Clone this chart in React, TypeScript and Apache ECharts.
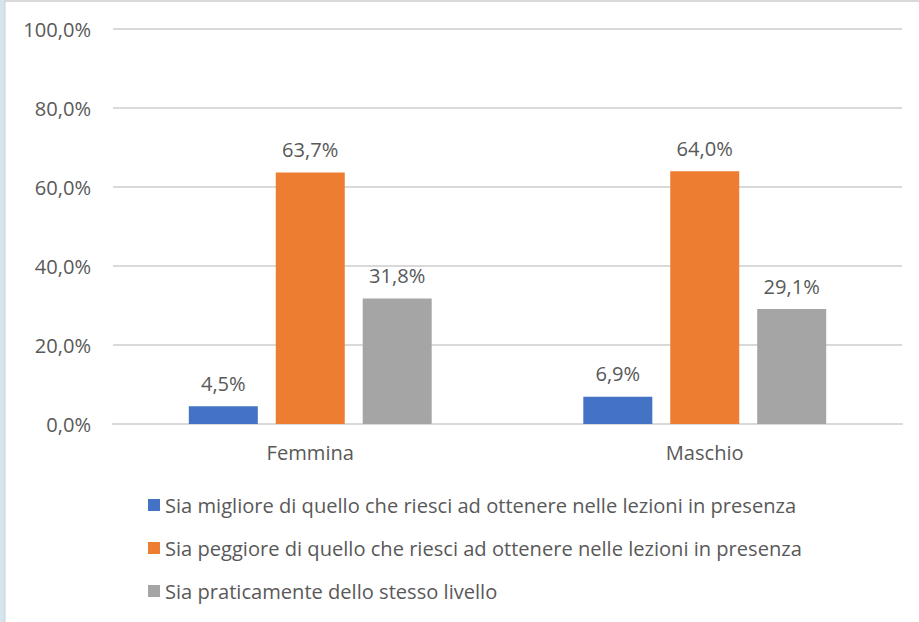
import React, { useEffect, useRef } from "react";
import * as echarts from "echarts";

const categories = ["Femmina", "Maschio"];
const seriesNames = [
  "Sia migliore di quello che riesci ad ottenere nelle lezioni in presenza",
  "Sia peggiore di quello che riesci ad ottenere nelle lezioni in presenza",
  "Sia praticamente dello stesso livello",
];
const migliore = [4.5, 6.9];
const peggiore = [63.7, 64.0];
const stesso = [31.8, 29.1];
const seriesColors = ["#4472c4", "#ed7d31", "#a5a5a5"];
const yTicks = [0, 20, 40, 60, 80, 100];

const fmt = (v: number) => v.toFixed(1).replace(".", ",") + "%";

export default function App() {
  const ref = useRef<HTMLDivElement>(null);
  useEffect(() => {
    if (!ref.current) return;
    const chart = echarts.init(ref.current, null, { renderer: "svg" });
    const font = "'Open Sans', sans-serif";
    const fs = 20.1;
    const values = [migliore, peggiore, stesso];
    chart.setOption({
      animation: false,
      backgroundColor: "#ffffff",
      textStyle: { fontFamily: font },
      graphic: [
        { type: "rect", shape: { x: 0, y: 0, width: 5, height: 622 }, style: { fill: "#d6e4ec" } },
        { type: "line", shape: { x1: 5, y1: 0, x2: 5, y2: 622 }, style: { stroke: "#c9d3d9", lineWidth: 1 } },
        { type: "rect", shape: { x: 5, y: 0, width: 914, height: 2 }, style: { fill: "#d9d9d9" } },
      ],
      grid: { left: 113, right: 17, top: 29, bottom: 198, containLabel: false },
      xAxis: {
        type: "category",
        data: categories,
        axisLine: { show: true, lineStyle: { color: "#d9d9d9", width: 2 } },
        axisTick: { show: false },
        axisLabel: { color: "#595959", fontSize: fs, margin: 18, fontFamily: font },
      },
      yAxis: {
        type: "value",
        min: yTicks[0],
        max: yTicks[yTicks.length - 1],
        interval: 20,
        axisLine: { show: false },
        axisTick: { show: false },
        splitLine: { lineStyle: { color: "#d9d9d9", width: 2 } },
        axisLabel: {
          color: "#595959",
          fontSize: fs,
          margin: 22,
          fontFamily: font,
          formatter: (v: number) => fmt(v),
        },
      },
      legend: {
        orient: "vertical",
        left: 143,
        top: 489,
        itemWidth: 12,
        itemHeight: 12,
        itemGap: 21,
        icon: "rect",
        textStyle: { color: "#595959", fontSize: fs, lineHeight: 22, fontFamily: font },
        data: seriesNames,
      },
      series: seriesNames.map((name, i) => ({
        name,
        type: "bar",
        data: values[i],
        barWidth: 69,
        barGap: "26%",
        itemStyle: { color: seriesColors[i] },
        label: {
          show: true,
          position: "top",
          distance: 13,
          color: "#595959",
          fontSize: fs,
          fontFamily: font,
          formatter: (p: any) => fmt(p.value),
        },
      })),
    });
    return () => chart.dispose();
  }, []);
  return (
    <div
      ref={ref}
      style={{ position: "absolute", left: 0, top: 0, width: 919, height: 622 }}
    />
  );
}
